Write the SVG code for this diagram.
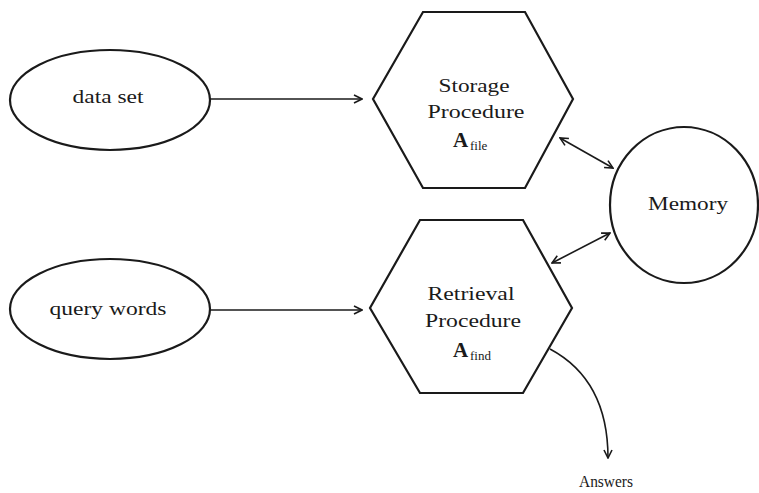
<svg xmlns="http://www.w3.org/2000/svg" width="759" height="493" viewBox="0 0 759 493">
<defs>
<style>
.shape{fill:none;stroke:#1a1a1a;stroke-width:2.2}
.conn{fill:none;stroke:#1a1a1a;stroke-width:1.6}
text{font-family:"Liberation Serif","Times New Roman",serif;fill:#1a1a1a;font-size:19px;text-anchor:middle}
.sub{font-size:13px;text-anchor:start}
.big{font-weight:bold;text-anchor:start;font-size:21px}
</style>
<marker id="ah" viewBox="0 0 10 10" refX="9" refY="5" markerWidth="10" markerHeight="10" markerUnits="userSpaceOnUse" orient="auto-start-reverse">
<path d="M1,1 L9,5 L1,9" fill="none" stroke="#1a1a1a" stroke-width="1.6"/>
</marker>
</defs>
<rect width="759" height="493" fill="#ffffff"/>
<g id="data-set">
<ellipse class="shape" cx="110" cy="100" rx="100" ry="50"/>
<text x="108" y="103" textLength="71" lengthAdjust="spacingAndGlyphs">data set</text>
</g>
<g id="query-words">
<ellipse class="shape" cx="110" cy="309" rx="100" ry="50"/>
<text x="108" y="315" textLength="117" lengthAdjust="spacingAndGlyphs">query words</text>
</g>
<g id="storage">
<polygon class="shape" points="423,12 525,12 573,99 525,188 423,188 373,99"/>
<text x="474" y="92" textLength="71" lengthAdjust="spacingAndGlyphs">Storage</text>
<text x="476" y="118" textLength="97" lengthAdjust="spacingAndGlyphs">Procedure</text>
<text class="big" x="453" y="147">A</text>
<text class="sub" x="470" y="150">file</text>
</g>
<g id="retrieval">
<polygon class="shape" points="420,220 523,220 572,308 523,393 420,393 370,308"/>
<text x="471" y="300" textLength="87" lengthAdjust="spacingAndGlyphs">Retrieval</text>
<text x="473" y="327" textLength="96" lengthAdjust="spacingAndGlyphs">Procedure</text>
<text class="big" x="453" y="357">A</text>
<text class="sub" x="470" y="360">find</text>
</g>
<g id="memory">
<ellipse class="shape" cx="684" cy="205" rx="74" ry="78"/>
<text x="688" y="210" textLength="80" lengthAdjust="spacingAndGlyphs">Memory</text>
</g>
<g id="answers">
<text x="606" y="487" textLength="54" lengthAdjust="spacingAndGlyphs" style="font-size:16px">Answers</text>
</g>
<g id="connectors">
<path class="conn" d="M210,99 L362,99" marker-end="url(#ah)"/>
<path class="conn" d="M210,310 L362,310" marker-end="url(#ah)"/>
<path class="conn" d="M560,138 L613,168" marker-start="url(#ah)" marker-end="url(#ah)"/>
<path class="conn" d="M552,263 L610,233" marker-start="url(#ah)" marker-end="url(#ah)"/>
<path class="conn" d="M550,349 Q608,380 608,458" marker-end="url(#ah)"/>
</g>
</svg>
